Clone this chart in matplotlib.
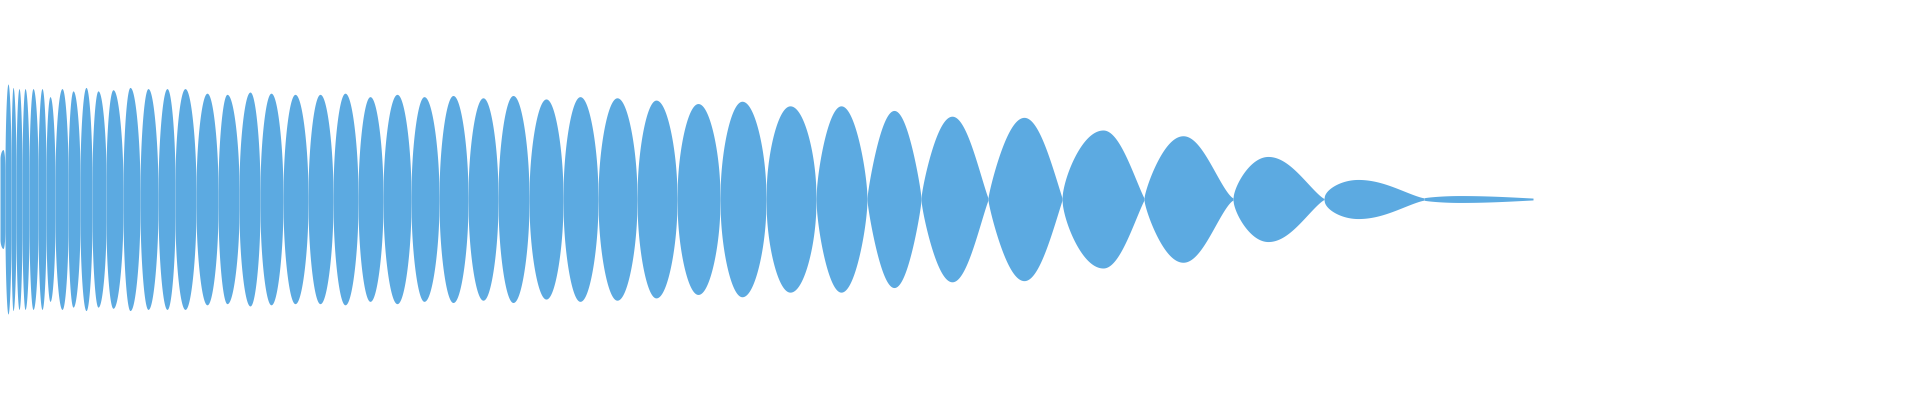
import numpy as np
import matplotlib
matplotlib.use('Agg')
import matplotlib.pyplot as plt

# zero crossings of the envelope (ms) and the residual level left at each one
nodes = [0, 5, 11, 16, 22, 29, 38, 46, 55, 68, 80, 92, 106, 123, 140, 158, 175,
         196, 218, 239, 260, 283, 308, 333, 358, 383, 411, 439, 468, 498, 529,
         563, 598, 637, 677, 720, 766, 816, 867, 921, 988, 1062, 1144, 1233,
         1324, 1424, 1533]
node_floor = [0.35, 0.26, 0.26, 0.22, 0.22, 0.22, 0.23, 0.23, 0.17, 0.22, 0.19,
              0.16, 0.20, 0.10, 0.07, 0.05, 0.15, 0.07, 0.07, 0.09, 0.07, 0.03,
              0.03, 0.03, 0.03, 0.03, 0.03, 0.02, 0.02, 0.02, 0.02, 0.02, 0.01,
              0.01, 0.01, 0.01, 0.01, 0.01, 0.01, 0.01, 0.01, 0.01, 0.01, 0.01,
              0.005, 0.01, 0.008]

# position and height of each lobe's peak (1.0 = full scale)
peak_t = [3, 8, 13, 19, 25, 33, 42, 50, 62, 73, 86, 98, 113, 130, 148, 167, 185,
          207, 227, 250, 271, 295, 320, 345, 370, 397, 424, 453, 483, 513, 546,
          580, 617, 656, 698, 742, 790, 841, 894, 952, 1024, 1103, 1183, 1268,
          1358, 1460]
peak_amp = [0.43, 1.0, 0.97, 0.96, 0.96, 0.96, 0.96, 0.89, 0.96, 0.94, 0.97,
            0.94, 0.95, 0.97, 0.96, 0.96, 0.96, 0.92, 0.91, 0.93, 0.92, 0.91,
            0.91, 0.92, 0.89, 0.91, 0.89, 0.90, 0.88, 0.90, 0.87, 0.89, 0.88,
            0.86, 0.83, 0.85, 0.81, 0.81, 0.77, 0.72, 0.71, 0.60, 0.55, 0.37,
            0.17, 0.03]

# flank exponents of the last lobes; earlier lobes are near-ellipses (0.5)
tail_rise = [0.65, 0.83, 0.8, 0.85, 0.65, 0.78, 0.65, 0.5, 0.7]
tail_fall = [0.65, 0.83, 1.1, 1.02, 1.1, 1.4, 1.25, 1.28, 1.0]

color = '#5CAAE1'

n_lobes = len(peak_t)
n_head = n_lobes - len(tail_rise)
rise_k = [0.5] * n_head + tail_rise
fall_k = [0.5] * n_head + tail_fall

fig = plt.figure(figsize=(19.2, 4), dpi=100)
ax = fig.add_axes([0, 0, 1, 1])

for i in range(n_lobes):
    a, b = nodes[i], nodes[i + 1]
    p, amp = peak_t[i], peak_amp[i]
    fa, fb = node_floor[i], node_floor[i + 1]
    t1 = np.linspace(a, p, 80)
    t2 = np.linspace(p, b, 80)
    s1 = np.sin(np.pi / 2 * (t1 - a) / (p - a)) ** rise_k[i]
    s2 = np.sin(np.pi / 2 * (b - t2) / (b - p)) ** fall_k[i]
    e1 = fa + (amp - fa) * s1
    e2 = fb + (amp - fb) * s2
    t = np.concatenate([t1, t2])
    env = np.concatenate([e1, e2])
    ax.fill_between(t, -env, env, color=color, linewidth=0, antialiased=False)

ax.set_xlim(0, 1920)
ax.set_ylim(-201 / 115, 199 / 115)
ax.axis('off')

fig.savefig('out.png', dpi=100, facecolor='white')
